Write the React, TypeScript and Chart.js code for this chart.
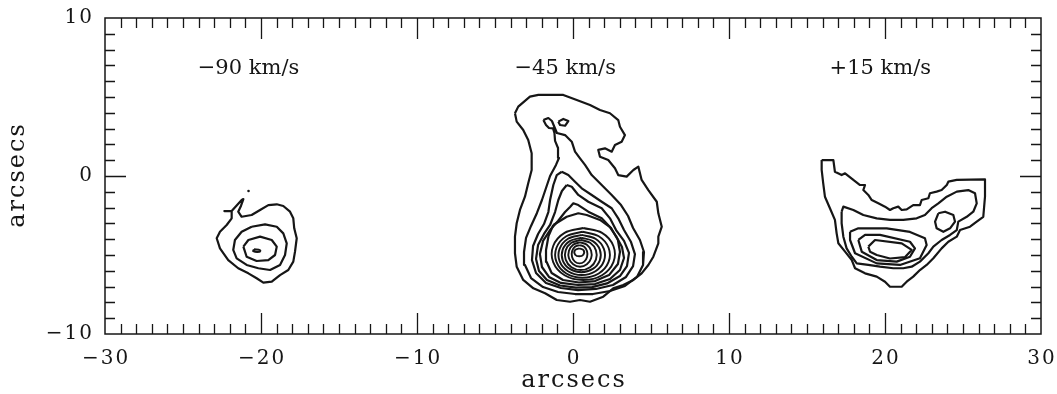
import { useEffect, useRef } from "react";
import { Chart, registerables } from "chart.js";

Chart.register(...registerables);

type Pt = [number, number];

// Axes: offsets in arcseconds
const xRange: [number, number] = [-30, 30];
const yRange: [number, number] = [-10, 10];
const xTickValues = [-30, -20, -10, 0, 10, 20, 30];
const xTickLabels = ["−30", "−20", "−10", "0", "10", "20", "30"];
const yTickValues = [-10, 0, 10];
const yTickLabels = ["−10", "0", "10"];
const xTitle = "arcsecs";
const yTitle = "arcsecs";

// Velocity channel captions and where they sit (data units)
const channelLabels = ["−90 km/s", "−45 km/s", "+15 km/s"];
const channelLabelX = [-20.8, -0.5, 19.7];
const channelLabelY = [6.8, 6.8, 6.8];

// ---- −90 km/s channel ----
const v90Outer: Pt[] = [
  [-21.88, -2.22], [-22.35, -2.22], [-21.88, -2.22], [-21.24, -1.52], [-21.13, -1.46],
  [-21.28, -1.88], [-21.46, -2.26], [-21.24, -2.58], [-20.6, -2.47], [-20.06, -2.15],
  [-19.53, -1.84], [-18.99, -1.79], [-18.57, -1.9], [-18.14, -2.26], [-17.93, -2.68],
  [-17.87, -3.31], [-17.71, -3.94], [-17.82, -4.79], [-17.93, -5.42], [-18.25, -5.95],
  [-18.78, -6.27], [-19.31, -6.69], [-19.85, -6.75], [-20.28, -6.47], [-20.81, -6.16],
  [-21.46, -5.84], [-22.1, -5.32], [-22.63, -4.58], [-22.84, -3.94], [-22.63, -3.53],
  [-22.2, -3.1], [-21.88, -2.68], [-21.88, -2.36], [-21.88, -2.22],
];
const v90Mid: Pt[] = [
  [-20.6, -3.21], [-19.74, -3.06], [-18.99, -3.21], [-18.57, -3.63], [-18.35, -4.26],
  [-18.46, -5.0], [-18.78, -5.63], [-19.42, -5.95], [-20.17, -5.84], [-20.92, -5.63],
  [-21.56, -5.21], [-21.78, -4.68], [-21.67, -4.05], [-21.24, -3.53], [-20.6, -3.21],
];
const v90Inner: Pt[] = [
  [-21.13, -4.47], [-20.81, -4.05], [-20.06, -3.84], [-19.31, -4.05], [-18.99, -4.47],
  [-19.1, -5.0], [-19.53, -5.32], [-20.28, -5.38], [-20.92, -5.11], [-21.13, -4.47],
];
const v90Peak: Pt[] = [
  [-20.45, -4.64], [-20.05, -4.7], [-20.1, -4.8], [-20.5, -4.76], [-20.45, -4.64],
];
const v90Speck: Pt[] = [[-20.8, -0.95]];

// ---- −45 km/s channel ----
const v45Outer: Pt[] = [
  [-3.72, 3.97], [-3.51, 4.39], [-2.76, 5.02], [-2.22, 5.13], [-0.62, 5.13], [0.24, 4.81],
  [1.09, 4.49], [1.73, 4.18], [2.37, 3.97], [2.9, 3.54], [3.01, 3.12], [3.33, 2.59],
  [3.12, 2.17], [2.69, 1.96], [2.48, 1.54], [2.05, 1.75], [1.62, 1.65], [1.73, 1.22],
  [2.26, 1.01], [2.69, 0.49], [2.9, 0.06], [3.44, -0.04], [3.87, 0.38], [4.19, 0.59],
  [4.4, -0.25], [4.83, -0.89], [5.37, -1.63], [5.47, -2.36], [5.69, -3.21], [5.47, -3.84],
  [5.47, -4.26], [5.15, -5.11], [4.83, -5.63], [4.4, -6.16], [3.87, -6.58], [3.22, -6.9],
  [2.58, -7.11], [1.94, -7.64], [1.09, -7.96], [0.45, -7.85], [-0.19, -7.96], [-1.04, -7.85],
  [-1.79, -7.42], [-2.54, -7.11], [-3.19, -6.58], [-3.61, -5.74], [-3.72, -4.89],
  [-3.72, -3.84], [-3.61, -2.99], [-3.4, -2.15], [-3.08, -1.31], [-2.87, -0.46],
  [-2.65, 0.38], [-2.65, 1.44], [-2.87, 2.28], [-3.19, 2.91], [-3.61, 3.44], [-3.72, 3.97],
];
const v45Ridge: Pt[] = [
  [-1.9, 3.54], [-1.58, 3.67], [-1.35, 3.48], [-1.19, 3.1], [-1.03, 2.72], [-0.51, 2.59],
  [-0.08, 2.17], [0.13, 1.54], [0.45, 1.12], [0.77, 0.7], [1.2, 0.06], [1.84, -0.57],
  [2.48, -1.2], [3.08, -1.84], [3.53, -2.53], [3.85, -3.29], [4.29, -4.05], [4.55, -4.81],
  [4.49, -5.63], [4.1, -6.39], [3.33, -6.96], [2.37, -7.28], [1.28, -7.47], [0.13, -7.47],
  [-0.96, -7.34], [-1.92, -7.03], [-2.69, -6.46], [-3.08, -5.63], [-3.14, -4.81],
  [-3.01, -3.92], [-2.69, -3.16], [-2.31, -2.34], [-1.99, -1.52], [-1.73, -0.76],
  [-1.47, 0.0], [-1.09, 0.7], [-0.9, 1.14], [-0.96, 1.77], [-1.15, 2.22], [-1.19, 2.72],
  [-1.28, 3.01], [-1.54, 3.04], [-1.73, 3.23], [-1.9, 3.54],
];
const v45Knot: Pt[] = [
  [-0.94, 3.44], [-0.62, 3.61], [-0.3, 3.48], [-0.51, 3.18], [-0.83, 3.23], [-0.94, 3.44],
];
const v45Level3: Pt[] = [
  [-0.72, 0.27], [-0.3, 0.06], [0.13, -0.36], [0.56, -0.78], [1.2, -1.2], [1.84, -1.63],
  [2.48, -2.04], [2.9, -2.68], [3.27, -3.42], [3.72, -4.18], [3.97, -4.94], [3.85, -5.7],
  [3.4, -6.39], [2.56, -6.9], [1.47, -7.15], [0.32, -7.22], [-0.77, -7.09], [-1.73, -6.77],
  [-2.37, -6.14], [-2.63, -5.32], [-2.56, -4.43], [-2.24, -3.67], [-1.86, -3.04],
  [-1.58, -2.28], [-1.47, -1.52], [-1.26, -0.57], [-1.04, 0.06], [-0.72, 0.27],
];
const v45Level4: Pt[] = [
  [-0.4, -0.57], [-0.08, -0.68], [0.34, -1.2], [0.98, -1.63], [1.84, -2.04], [2.37, -2.68],
  [2.76, -3.42], [3.27, -4.11], [3.59, -4.87], [3.46, -5.7], [3.01, -6.33], [2.18, -6.8],
  [1.22, -7.03], [0.19, -7.06], [-0.83, -6.93], [-1.67, -6.58], [-2.18, -6.01],
  [-2.37, -5.25], [-2.24, -4.37], [-1.86, -3.67], [-1.47, -3.1], [-1.15, -2.28],
  [-0.94, -1.52], [-0.71, -0.95], [-0.4, -0.57],
];
const v45Level5: Pt[] = [
  [-0.19, -1.96], [0.02, -1.73], [0.34, -1.84], [0.98, -2.26], [1.84, -2.68], [2.31, -3.16],
  [2.76, -3.8], [3.14, -4.49], [3.27, -5.19], [3.01, -5.95], [2.37, -6.52], [1.41, -6.84],
  [0.32, -6.9], [-0.77, -6.77], [-1.54, -6.39], [-1.99, -5.76], [-2.12, -4.94],
  [-1.92, -4.11], [-1.47, -3.42], [-0.96, -2.85], [-0.51, -2.28], [-0.19, -1.96],
];
const v45Level6: Pt[] = [
  [-1.26, -3.1], [-0.4, -2.58], [0.34, -2.36], [0.88, -2.47], [1.73, -2.78], [2.44, -3.29],
  [2.88, -4.05], [3.01, -4.81], [2.88, -5.57], [2.31, -6.27], [1.41, -6.65], [0.38, -6.74],
  [-0.64, -6.58], [-1.37, -6.14], [-1.69, -5.44], [-1.73, -4.68], [-1.57, -3.8], [-1.26, -3.1],
];
const v45Core1: Pt[] = [
  [0.66, -3.29], [1.86, -3.6], [2.59, -4.43], [2.59, -5.45], [1.86, -6.28], [0.66, -6.58],
  [-0.54, -6.28], [-1.27, -5.45], [-1.27, -4.43], [-0.54, -3.6], [0.66, -3.29],
];
const v45Core2: Pt[] = [
  [0.61, -3.53], [1.65, -3.81], [2.28, -4.54], [2.28, -5.44], [1.65, -6.17], [0.61, -6.44],
  [-0.43, -6.17], [-1.06, -5.44], [-1.06, -4.54], [-0.43, -3.81], [0.61, -3.53],
];
const v45Core3: Pt[] = [
  [0.56, -3.73], [1.44, -3.97], [1.98, -4.61], [1.98, -5.39], [1.44, -6.03], [0.56, -6.27],
  [-0.32, -6.03], [-0.86, -5.39], [-0.86, -4.61], [-0.32, -3.97], [0.56, -3.73],
];
const v45Core4: Pt[] = [
  [0.53, -3.91], [1.27, -4.12], [1.72, -4.66], [1.72, -5.34], [1.27, -5.88], [0.53, -6.09],
  [-0.21, -5.88], [-0.66, -5.34], [-0.66, -4.66], [-0.21, -4.12], [0.53, -3.91],
];
const v45Core5: Pt[] = [
  [0.5, -4.05], [1.1, -4.23], [1.47, -4.71], [1.47, -5.29], [1.1, -5.77], [0.5, -5.95],
  [-0.1, -5.77], [-0.47, -5.29], [-0.47, -4.71], [-0.1, -4.23], [0.5, -4.05],
];
const v45Core6: Pt[] = [
  [0.45, -4.2], [0.89, -4.35], [1.16, -4.73], [1.16, -5.21], [0.89, -5.59], [0.45, -5.74],
  [0.01, -5.59], [-0.26, -5.21], [-0.26, -4.73], [0.01, -4.35], [0.45, -4.2],
];
const v45Core7: Pt[] = [
  [0.42, -4.37], [0.72, -4.48], [0.9, -4.77], [0.9, -5.13], [0.72, -5.42], [0.42, -5.53],
  [0.12, -5.42], [-0.06, -5.13], [-0.06, -4.77], [0.12, -4.48], [0.42, -4.37],
];
const v45Peak: Pt[] = [
  [0.4, -4.58], [0.68, -4.7], [0.66, -4.98], [0.4, -5.08], [0.14, -4.98], [0.12, -4.7], [0.4, -4.58],
];

// ---- +15 km/s channel ----
const v15Outer: Pt[] = [
  [15.94, 1.01], [16.69, 1.01], [16.79, 0.27], [17.22, 0.06], [17.44, 0.17], [17.97, -0.25],
  [18.4, -0.57], [18.72, -0.57], [18.61, -0.89], [18.93, -1.2], [19.15, -1.52], [19.57, -1.73],
  [20.0, -1.94], [20.32, -2.15], [20.53, -2.04], [20.85, -1.94], [21.07, -2.15], [21.39, -2.11],
  [21.81, -1.84], [22.24, -1.84], [22.35, -1.52], [22.78, -1.41], [22.88, -1.09], [23.31, -0.99],
  [23.63, -0.89], [23.96, -0.57], [24.06, -0.36], [24.6, -0.25], [26.41, -0.21], [26.41, -1.31],
  [26.3, -2.58], [25.88, -2.89], [25.45, -3.21], [24.81, -3.42], [24.6, -3.84], [24.06, -4.16],
  [23.63, -4.58], [23.1, -5.21], [22.67, -5.63], [22.24, -5.95], [21.81, -6.37], [21.39, -6.69],
  [21.07, -7.01], [20.32, -7.01], [20.0, -6.69], [19.47, -6.37], [18.72, -6.16], [18.08, -5.84],
  [17.87, -5.32], [17.44, -4.79], [17.01, -4.26], [16.9, -3.63], [16.79, -2.78], [16.47, -2.04],
  [16.15, -1.31], [16.04, -0.46], [15.94, 0.38], [15.94, 1.01],
];
const v15Level2: Pt[] = [
  [17.22, -2.26], [17.33, -1.94], [17.97, -2.15], [18.61, -2.47], [19.47, -2.68], [20.32, -2.78],
  [21.17, -2.78], [22.03, -2.68], [22.56, -2.47], [22.99, -2.04], [23.42, -1.73], [23.96, -1.31],
  [24.6, -0.99], [25.34, -0.89], [25.77, -1.09], [25.88, -1.73], [25.66, -2.26], [25.24, -2.58],
  [24.7, -2.89], [24.6, -3.42], [24.17, -3.73], [23.63, -4.05], [23.1, -4.47], [22.78, -4.89],
  [22.24, -5.42], [21.71, -5.74], [21.17, -5.84], [20.53, -5.84], [19.68, -5.74], [18.93, -5.63],
  [18.19, -5.53], [17.87, -5.11], [17.54, -4.58], [17.33, -3.84], [17.22, -2.99], [17.22, -2.26],
];
const v15Knot: Pt[] = [
  [23.42, -2.36], [23.85, -2.26], [24.38, -2.47], [24.49, -2.89], [24.17, -3.31], [23.74, -3.53],
  [23.31, -3.31], [23.21, -2.89], [23.42, -2.36],
];
const v15Level3: Pt[] = [
  [17.76, -3.53], [18.29, -3.31], [20.11, -3.31], [21.6, -3.54], [22.56, -3.94], [22.67, -4.37],
  [22.24, -5.21], [20.96, -5.63], [19.47, -5.53], [18.08, -4.89], [17.76, -4.05], [17.76, -3.53],
];
const v15Level4: Pt[] = [
  [18.29, -4.05], [18.72, -3.73], [19.68, -3.73], [21.6, -4.16], [21.92, -4.58], [21.6, -5.11],
  [20.75, -5.42], [19.47, -5.32], [18.51, -4.79], [18.29, -4.05],
];
const v15Level5: Pt[] = [
  [18.93, -4.47], [19.36, -4.05], [21.07, -4.26], [21.71, -4.68], [21.29, -5.13], [20.32, -5.22],
  [19.47, -5.0], [19.04, -4.79], [18.93, -4.47],
];

const ink = "#161616";
const serif = '"DejaVu Serif", "Liberation Serif", serif';

const plainContours: Pt[][] = [
  v90Outer, v90Mid, v90Inner,
  v45Outer, v45Ridge, v45Knot, v45Level3, v45Level4, v45Level5, v45Level6,
  v15Outer, v15Level2, v15Knot, v15Level3, v15Level4, v15Level5,
];
const coreContours: Pt[][] = [
  v45Core1, v45Core2, v45Core3, v45Core4, v45Core5, v45Core6, v45Core7, v45Peak, v90Peak,
];

const toXY = (pts: Pt[]) => pts.map(([x, y]) => ({ x, y }));

// Frame, inward tick marks and all text, placed through the chart's scales
const framePlugin = {
  id: "frameAndText",
  afterDatasetsDraw(chart: any) {
    const { ctx, chartArea: a, scales } = chart;
    const xs = scales.x;
    const ys = scales.y;
    ctx.save();
    ctx.strokeStyle = ink;
    ctx.lineWidth = 1.5;
    ctx.strokeRect(a.left, a.top, a.right - a.left, a.bottom - a.top);

    ctx.beginPath();
    for (let v = xRange[0] + 1; v < xRange[1]; v++) {
      const px = Math.round(xs.getPixelForValue(v)) + 0.5;
      const len = v % 10 === 0 ? 21 : 10;
      ctx.moveTo(px, a.bottom);
      ctx.lineTo(px, a.bottom - len);
      ctx.moveTo(px, a.top);
      ctx.lineTo(px, a.top + len);
    }
    for (let v = yRange[0] + 1; v < yRange[1]; v++) {
      const py = Math.round(ys.getPixelForValue(v)) + 0.5;
      const len = v % 10 === 0 ? 21 : 10;
      ctx.moveTo(a.left, py);
      ctx.lineTo(a.left + len, py);
      ctx.moveTo(a.right, py);
      ctx.lineTo(a.right - len, py);
    }
    ctx.lineWidth = 1.3;
    ctx.stroke();

    ctx.fillStyle = ink;
    ctx.font = `20px ${serif}`;
    (ctx as any).letterSpacing = "2px";
    ctx.textAlign = "center";
    ctx.textBaseline = "top";
    xTickValues.forEach((v, i) => {
      ctx.fillText(xTickLabels[i], xs.getPixelForValue(v) + 1, a.bottom + 15);
    });
    ctx.textAlign = "right";
    ctx.textBaseline = "middle";
    yTickValues.forEach((v, i) => {
      ctx.fillText(yTickLabels[i], a.left - 11, ys.getPixelForValue(v));
    });

    ctx.font = `24px ${serif}`;
    (ctx as any).letterSpacing = "2px";
    ctx.textAlign = "center";
    ctx.textBaseline = "middle";
    ctx.fillText(xTitle, (a.left + a.right) / 2 + 1, a.bottom + 47);
    ctx.save();
    ctx.translate(a.left - 87, (a.top + a.bottom) / 2);
    ctx.rotate(-Math.PI / 2);
    ctx.fillText(yTitle, 1, 0);
    ctx.restore();

    ctx.font = `21px ${serif}`;
    (ctx as any).letterSpacing = "0px";
    channelLabels.forEach((t, i) => {
      ctx.fillText(t, xs.getPixelForValue(channelLabelX[i]), ys.getPixelForValue(channelLabelY[i]));
    });
    ctx.restore();
  },
};

export default function App() {
  const ref = useRef<HTMLCanvasElement | null>(null);

  useEffect(() => {
    if (!ref.current) return;
    const datasets: any[] = [
      ...plainContours.map((pts) => ({
        data: toXY(pts),
        borderColor: ink,
        borderWidth: 2.2,
        tension: 0,
        pointRadius: 0,
        fill: false,
      })),
      ...coreContours.map((pts) => ({
        data: toXY(pts),
        borderColor: ink,
        borderWidth: 1.9,
        tension: 0.35,
        pointRadius: 0,
        fill: false,
      })),
      {
        data: toXY(v90Speck),
        showLine: false,
        pointRadius: 1.3,
        pointBackgroundColor: ink,
        pointBorderWidth: 0,
      },
    ];

    const chart = new Chart(ref.current, {
      type: "line",
      data: { datasets },
      options: {
        responsive: false,
        animation: false,
        layout: { padding: { left: 105, top: 18, right: 16, bottom: 60 } },
        scales: {
          x: { type: "linear", min: xRange[0], max: xRange[1], display: false },
          y: { type: "linear", min: yRange[0], max: yRange[1], display: false },
        },
        plugins: { legend: { display: false }, tooltip: { enabled: false } },
        elements: { line: { capBezierPoints: true, borderJoinStyle: "round" } },
      },
      plugins: [framePlugin],
    });
    return () => chart.destroy();
  }, []);

  return (
    <div style={{ position: "fixed", left: 0, top: 0, width: 1057, height: 394, background: "#fff" }}>
      <canvas ref={ref} width={1057} height={394} style={{ display: "block" }} />
    </div>
  );
}
